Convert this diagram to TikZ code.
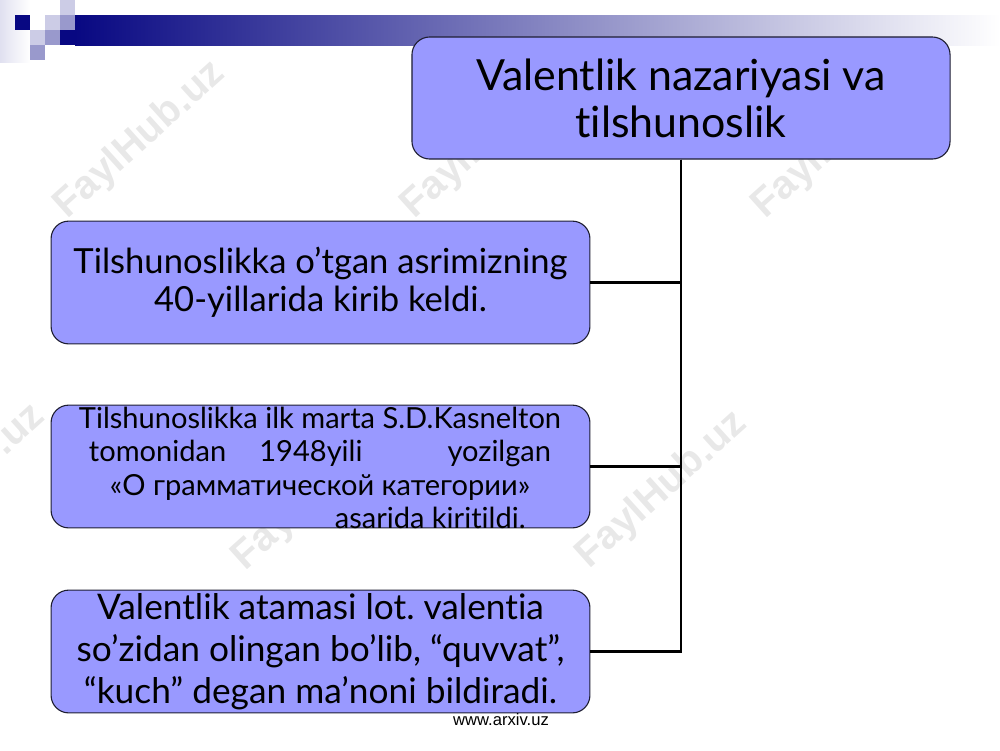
\documentclass[tikz,border=0pt]{standalone}
\usepackage{fontspec}
\setmainfont{Lato}[Ligatures={NoCommon,NoRare,NoDiscretionary}]
\newfontfamily\wmfont{Liberation Sans}
\newfontfamily\sitefont{Liberation Sans}
\usepackage{tikz}
\frenchspacing

\definecolor{boxfill}{RGB}{153,153,255}
\definecolor{boxline}{RGB}{30,30,50}
\definecolor{barnavy}{RGB}{8,8,130}
\definecolor{tilemid}{RGB}{153,153,204}
\definecolor{tilelight}{RGB}{204,204,230}

\tikzset{
  box/.style={draw=boxline, fill=boxfill, line width=0.8pt, rounded corners=0.45cm,
    minimum width=13.69cm, minimum height=3.12cm, inner sep=0pt, align=center},
  link/.style={line width=1.8pt},
  wmark/.style={text=black!9, font=\wmfont\bfseries\fontsize{29}{29}\selectfont, rotate=42}
}

\begin{document}
\begin{tikzpicture}[x=0.0254cm, y=-0.0254cm]
    \useasboundingbox (0, 0) rectangle (1000, 750);

    % header bar and tiles
    \shade [left color=tilelight!60, right color=white] (0, 0) rectangle (30, 62);
    \shade [left color=barnavy, right color=white] (75, 15) rectangle (1000, 45);
    \fill [barnavy] (60, 30) rectangle (75, 45);
    \fill [barnavy] (15, 15) rectangle (30, 30);
    \fill [tilelight] (60, 0) rectangle (75, 15);
    \fill [tilelight] (45, 15) rectangle (60, 30);
    \fill [tilemid] (60, 15) rectangle (75, 30);
    \fill [tilelight] (30, 30) rectangle (45, 45);
    \fill [tilemid] (45, 30) rectangle (60, 45);
    \fill [tilemid] (30, 45) rectangle (45, 60);

    % watermarks
    \node[wmark](wm1) at (140, 140){FaylHub.uz};
    \node[wmark](wm2) at (487, 140){FaylHub.uz};
    \node[wmark](wm3) at (838, 140){FaylHub.uz};
    \node[wmark](wm4) at (-40, 483){FaylHub.uz};
    \node[wmark](wm5) at (318, 492){FaylHub.uz};
    \node[wmark](wm6) at (662, 490){FaylHub.uz};

    % title
    \node[box, minimum width=13.67cm, minimum height=3.10cm,
      font=\fontsize{31}{34}\selectfont](valent) at (681, 98)
      {Valentlik nazariyasi va\\tilshunoslik};

    % boxes
    \node[box, font=\fontsize{25}{27.5}\selectfont](yillar) at (320.5, 282.5)
      {Tilshunoslikka o’tgan asrimizning\\40-yillarida kirib keldi.};
    \node[box](kasnelton) at (320.5, 466.5){};
    \node[font=\fontsize{21}{24}\selectfont, align=center, inner sep=0pt](kasneltontxt)
      at (320, 468){Tilshunoslikka ilk marta S.D.Kasnelton\\
      tomonidan\hspace{0.84cm}1948yili\hspace{2.16cm}yozilgan\\
      «О грамматической категории»\\
      \hspace*{5.6cm}asarida kiritildi.};
    \node[box, font=\fontsize{25.5}{30.5}\selectfont](atama) at (320.5, 651.5)
      {Valentlik atamasi lot. valentia\\so’zidan olingan bo’lib, “quvvat”,\\“kuch” degan ma’noni bildiradi.};

    % links
    \draw[link] (valent.south) |- (yillar.east);
    \draw[link] (valent.south) |- (kasnelton.east);
    \draw[link] (valent.south) |- (atama.east);

    % site
    \node[font=\sitefont\fontsize{12}{12}\selectfont, inner sep=0pt](site) at (501, 720){www.arxiv.uz};
\end{tikzpicture}
\end{document}
